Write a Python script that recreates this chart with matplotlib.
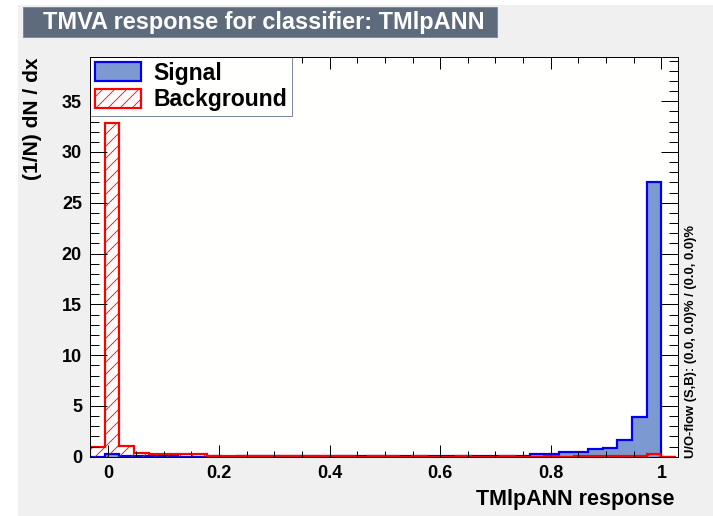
import numpy as np
import matplotlib
matplotlib.use("Agg")
import matplotlib.pyplot as plt
from matplotlib.patches import Patch, Rectangle
from matplotlib.ticker import MultipleLocator, FuncFormatter

plt.rcParams['font.family'] = ['Liberation Sans', 'DejaVu Sans']
plt.rcParams['font.weight'] = 'bold'
plt.rcParams['hatch.linewidth'] = 0.8

# TMVA style colours
c_canvas = '#f0f0f0'
c_frame = '#fffffd'
c_title_box = '#5D6B7D'
c_title_border = '#7D8B9D'
c_sig_fill = '#7d99d1'
c_sig_line = '#0000ee'
c_bkg_line = '#ff0000'

# classifier output binning
x_lo, x_hi, n_bins = -0.0328, 1.0264, 40

# normalised classifier response, (1/N) dN/dx per bin
signal = [0.0, 0.25, 0.12, 0.08, 0.05, 0.03, 0.02, 0.02, 0.03, 0.02,
          0.03, 0.04, 0.03, 0.04, 0.05, 0.04, 0.05, 0.06, 0.05, 0.06,
          0.07, 0.06, 0.07, 0.08, 0.08, 0.10, 0.10, 0.11, 0.10, 0.12,
          0.30, 0.30, 0.43, 0.45, 0.73, 0.83, 1.65, 3.90, 27.0, 0.0]
background = [1.0, 32.9, 1.05, 0.40, 0.25, 0.25, 0.24, 0.25, 0.05, 0.04,
              0.04, 0.03, 0.04, 0.03, 0.03, 0.04, 0.03, 0.03, 0.02, 0.03,
              0.03, 0.02, 0.03, 0.02, 0.02, 0.03, 0.02, 0.02, 0.03, 0.02,
              0.02, 0.03, 0.02, 0.03, 0.03, 0.04, 0.05, 0.05, 0.30, 0.0]

edges = np.linspace(x_lo, x_hi, n_bins + 1)

W, H = 713, 516
fig = plt.figure(figsize=(W / 72, H / 72), dpi=72, facecolor='white')

# canvas and title box
fig.add_artist(Rectangle((18 / W, 0), 1, 1 - 5 / H, transform=fig.transFigure,
                         facecolor=c_canvas, edgecolor='none', zorder=-10))
fig.add_artist(Rectangle((23 / W, 1 - 37.3 / H), (497 - 23) / W, 30 / H,
                         transform=fig.transFigure, facecolor=c_title_box,
                         edgecolor=c_title_border, lw=1, zorder=-5))
fig.text(43 / W, 1 - 22.5 / H, 'TMVA response for classifier: TMlpANN',
         color='white', fontsize=23.5, ha='left', va='center')

ax = fig.add_axes([90 / W, 1 - 456.8 / H, (677.7 - 90) / W, (456.8 - 57) / H])
ax.set_facecolor(c_frame)

ax.stairs(signal, edges, fill=True, facecolor=c_sig_fill, edgecolor='none', zorder=1)
ax.stairs(signal, edges, edgecolor=c_sig_line, lw=2.2, zorder=1.1)
ax.stairs(background, edges, fill=True, facecolor='none', edgecolor=c_bkg_line,
          hatch='//', lw=0, zorder=1.2)
ax.stairs(background, edges, edgecolor=c_bkg_line, lw=2.2, zorder=1.3)

ax.set_xlim(-0.0331, 1.0294)
ax.set_ylim(0, 39.35)

ax.xaxis.set_major_locator(MultipleLocator(0.2))
ax.xaxis.set_minor_locator(MultipleLocator(0.05))
ax.yaxis.set_major_locator(MultipleLocator(5))
ax.yaxis.set_minor_locator(MultipleLocator(1))
ax.xaxis.set_major_formatter(FuncFormatter(lambda v, p: f'{v:g}'))
ax.yaxis.set_major_formatter(FuncFormatter(lambda v, p: f'{v:g}'))

ax.tick_params(which='both', direction='in', top=True, right=True, width=1,
               color='black', labelsize=18, pad=8)
ax.tick_params(axis='x', which='major', length=12)
ax.tick_params(axis='x', which='minor', length=6)
ax.tick_params(axis='y', which='major', length=17)
ax.tick_params(axis='y', which='minor', length=9)
for s in ax.spines.values():
    s.set_linewidth(1)
    s.set_color('black')

handles = [Patch(facecolor=c_sig_fill, edgecolor=c_sig_line, lw=2.2),
           Patch(facecolor='none', edgecolor=c_bkg_line, hatch='//', lw=2.2)]
leg = ax.legend(handles, ['Signal', 'Background'], loc='upper left',
                bbox_to_anchor=(0, 1), borderaxespad=0, fontsize=23,
                handlelength=2.0, handleheight=0.9, handletextpad=0.55,
                borderpad=0.2, labelspacing=0.15, fancybox=False, framealpha=1,
                facecolor=c_frame, edgecolor=c_title_border)
leg.get_frame().set_linewidth(1)
leg.set_zorder(2)

fig.text(675 / W, 1 - 500 / H, 'TMlpANN response', fontsize=21.5, ha='right', va='center')
fig.text(32 / W, 1 - 57 / H, '(1/N) dN / dx', fontsize=21, rotation=90,
         ha='center', va='top')
fig.text(691 / W, 1 - 458 / H, 'U/O-flow (S,B): (0.0, 0.0)% / (0.0, 0.0)%',
         fontsize=13, rotation=90, ha='center', va='bottom')

fig.savefig('out.png', dpi=72)
